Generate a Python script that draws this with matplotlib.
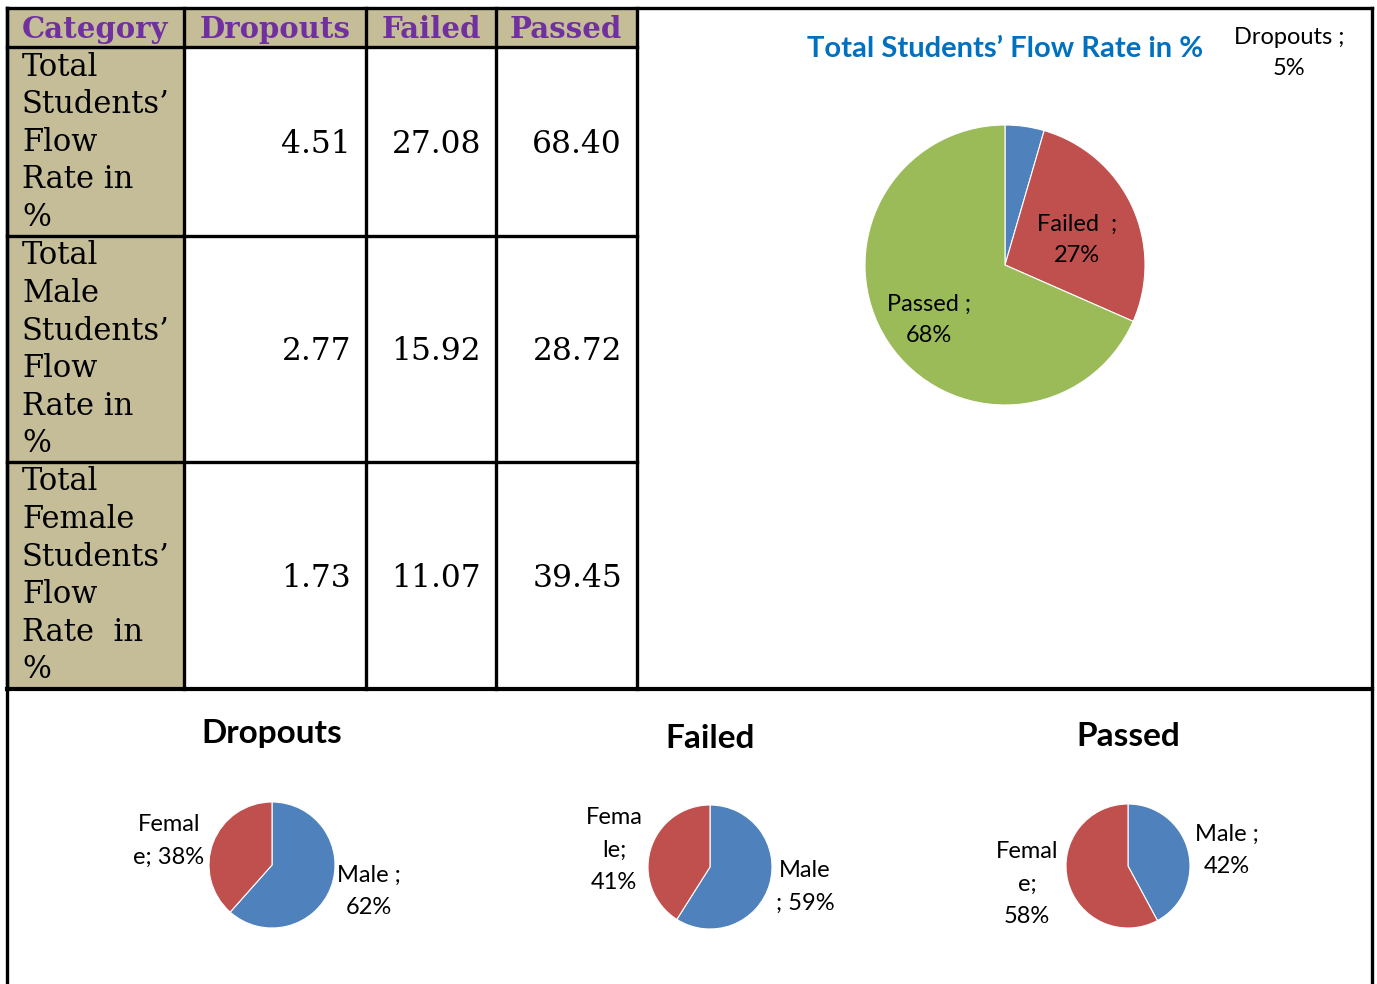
import numpy as np
import matplotlib
matplotlib.use("Agg")
import matplotlib.pyplot as plt

# Table data
columns = ["Category", "Dropouts", "Failed", "Passed"]
row_labels = [
    ["Total", "Students\u2019", "Flow", "Rate in", "%"],
    ["Total", "Male", "Students\u2019", "Flow", "Rate in", "%"],
    ["Total", "Female", "Students\u2019", "Flow", "Rate  in", "%"],
]
total_vals = [4.51, 27.08, 68.40]
male_vals = [2.77, 15.92, 28.72]
female_vals = [1.73, 11.07, 39.45]
table_vals = [total_vals, male_vals, female_vals]

main_title = "Total Students\u2019 Flow Rate in %"
gender_names = ["Male", "Female"]

W, H = 1377, 984
TAN = "#C4BD97"
PURPLE = "#7030A0"
BLUE = "#4F81BD"
RED = "#C0504D"
GREEN = "#9BBB59"
TITLE_BLUE = "#0070C0"
SANS = "Lato"
SERIF = "DejaVu Serif"

fig = plt.figure(figsize=(W / 100, H / 100), dpi=100)
bg = fig.add_axes([0, 0, 1, 1])
bg.set_xlim(0, W)
bg.set_ylim(H, 0)
bg.axis("off")

# table grid geometry (pixels)
col_x = [7, 184, 366, 496, 637]
row_y = [8, 47, 236, 462, 689]

# tan fills
bg.add_patch(plt.Rectangle((col_x[0], row_y[0]), col_x[-1] - col_x[0], row_y[1] - row_y[0], color=TAN, zorder=0))
bg.add_patch(plt.Rectangle((col_x[0], row_y[0]), col_x[1] - col_x[0], row_y[-1] - row_y[0], color=TAN, zorder=0))

lw = 2.4
for x in col_x:
    bg.plot([x, x], [row_y[0], row_y[-1]], color="black", lw=lw)
for y in row_y[1:-1]:
    bg.plot([col_x[0], col_x[-1]], [y, y], color="black", lw=lw)
bg.plot([7, 1372], [8, 8], color="black", lw=lw)
bg.plot([7, 1372], [689, 689], color="black", lw=3)
bg.plot([1372, 1372], [8, 984], color="black", lw=lw)
bg.plot([7, 7], [8, 984], color="black", lw=lw)

# header
for i, c in enumerate(columns):
    if i == 0:
        bg.text(col_x[0] + 15, 29, c, ha="left", va="center", fontsize=21, fontweight="bold",
                color=PURPLE, family=SERIF)
    else:
        bg.text(col_x[i + 1] - 15, 29, c, ha="right", va="center", fontsize=21, fontweight="bold",
                color=PURPLE, family=SERIF)

# body rows
line_step = 37.6
for r, lines in enumerate(row_labels):
    y0 = row_y[r + 1] + 20
    for k, ln in enumerate(lines):
        bg.text(col_x[0] + 15, y0 + k * line_step, ln, ha="left", va="center",
                fontsize=22, family=SERIF)
    ymid = (row_y[r + 1] + row_y[r + 2]) / 2 + 3
    for j, v in enumerate(table_vals[r]):
        bg.text(col_x[j + 2] - 15, ymid, f"{v:.2f}", ha="right", va="center",
                fontsize=22.5, family=SERIF)

# main pie
pie_colors = [BLUE, RED, GREEN]
cx, cy, rad = 1005, 265, 140
ax = fig.add_axes([(cx - rad) / W, 1 - (cy + rad) / H, 2 * rad / W, 2 * rad / H])
ax.pie(total_vals, colors=pie_colors, startangle=90, counterclock=False,
       wedgeprops=dict(linewidth=0.8, edgecolor="white"))
ax.set_xlim(-1, 1)
ax.set_ylim(-1, 1)
ax.axis("off")

# gender pies
small = [
    ("Dropouts", 0, (272, 865, 63), (272, 734),
     ("Male ;\n{m}%", 369, 891), ("Femal\ne; {f}%", 169, 841)),
    ("Failed", 1, (710, 867, 62), (710, 738),
     ("Male\n; {m}%", 805, 887), ("Fema\nle;\n{f}%", 614, 850)),
    ("Passed", 2, (1128, 866, 62), (1128, 737),
     ("Male ;\n{m}%", 1227, 850), ("Femal\ne;\n{f}%", 1027, 884)),
]
for name, j, (px, py, pr), _, _, _ in small:
    vals = [male_vals[j], female_vals[j]]
    sa = fig.add_axes([(px - pr) / W, 1 - (py + pr) / H, 2 * pr / W, 2 * pr / H])
    sa.pie(vals, colors=[BLUE, RED], startangle=90, counterclock=False,
           wedgeprops=dict(linewidth=0.8, edgecolor="white"))
    sa.set_xlim(-1, 1)
    sa.set_ylim(-1, 1)
    sa.axis("off")

# overlay for labels on top of the pies
top = fig.add_axes([0, 0, 1, 1])
top.set_xlim(0, W)
top.set_ylim(H, 0)
top.axis("off")
top.patch.set_alpha(0)

top.text(1005, 49, main_title, ha="center", va="center", fontsize=21, fontweight="bold",
         color=TITLE_BLUE, family=SANS)
pct = [round(v / sum(total_vals) * 100) for v in total_vals]
top.text(1289, 53, f"Dropouts ;\n{pct[0]}%", ha="center", va="center", fontsize=17,
         family=SANS, linespacing=1.55)
top.text(1077, 240, f"Failed  ;\n{pct[1]}%", ha="center", va="center", fontsize=17,
         family=SANS, linespacing=1.6)
top.text(929, 320, f"Passed ;\n{pct[2]}%", ha="center", va="center", fontsize=17,
         family=SANS, linespacing=1.6)

for name, j, _, (tx, ty), male_lab, fem_lab in small:
    vals = [male_vals[j], female_vals[j]]
    m = round(vals[0] / sum(vals) * 100)
    f = round(vals[1] / sum(vals) * 100)
    top.text(tx, ty, name, ha="center", va="center", fontsize=24, fontweight="bold", family=SANS)
    top.text(male_lab[1], male_lab[2], male_lab[0].format(m=m), ha="center", va="center",
             fontsize=17, family=SANS, linespacing=1.65)
    top.text(fem_lab[1], fem_lab[2], fem_lab[0].format(f=f), ha="center", va="center",
             fontsize=17, family=SANS, linespacing=1.65)

fig.savefig("out.png", dpi=100)
